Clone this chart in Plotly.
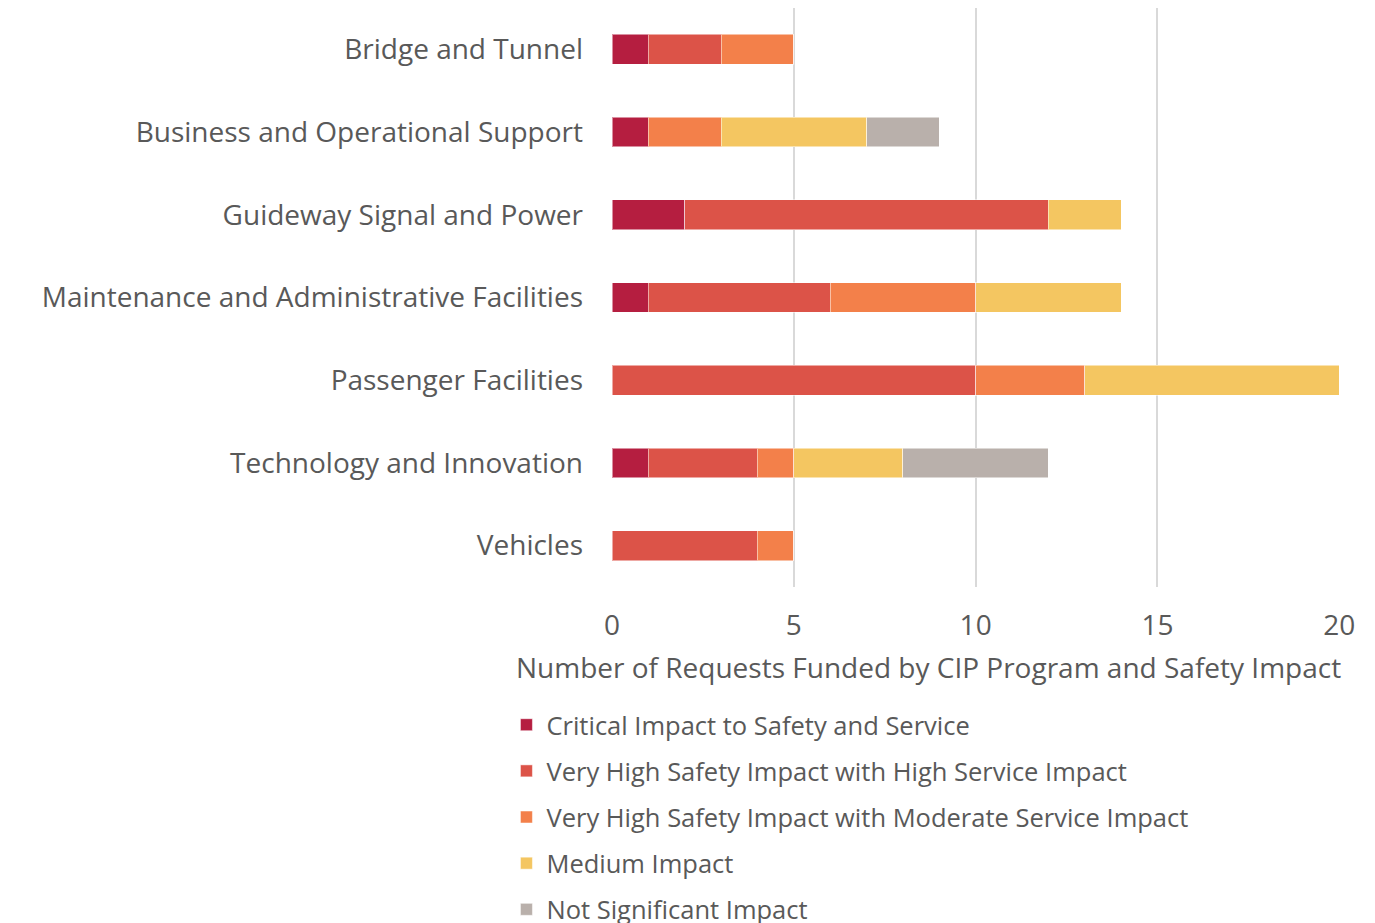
import plotly.graph_objects as go

# категории (сверху вниз как на картинке)
programs = [
    'Bridge and Tunnel',
    'Business and Operational Support',
    'Guideway Signal and Power',
    'Maintenance and Administrative Facilities',
    'Passenger Facilities',
    'Technology and Innovation',
    'Vehicles',
]

critical = [1, 1, 2, 1, 0, 1, 0]
very_high_high = [2, 0, 10, 5, 10, 3, 4]
very_high_moderate = [2, 2, 0, 4, 3, 1, 1]
medium = [0, 4, 2, 4, 7, 3, 0]
not_significant = [0, 2, 0, 0, 0, 4, 0]

x_ticks = [0, 5, 10, 15, 20]

series = [
    ('Critical Impact to Safety and Service', critical, '#B51E40'),
    ('Very High Safety Impact with High Service Impact', very_high_high, '#DC5348'),
    ('Very High Safety Impact with Moderate Service Impact', very_high_moderate, '#F3804A'),
    ('Medium Impact', medium, '#F4C661'),
    ('Not Significant Impact', not_significant, '#B9B0AB'),
]

FONT = 'Open Sans, Liberation Sans, Arial, sans-serif'
TEXT = '#595959'

fig = go.Figure()
for name, vals, color in series:
    fig.add_trace(go.Bar(
        y=programs,
        x=vals,
        name=name,
        orientation='h',
        legendgroup=name,
        marker=dict(color=color, line=dict(color='rgba(255,255,255,0.5)', width=1)),
    ))

# страница имеет отступ body 8px, поэтому поля чуть меньше
fig.update_layout(
    barmode='stack',
    bargap=0.64,
    width=1375,
    height=923,
    margin=dict(l=604, r=43, t=0, b=344, autoexpand=False),
    plot_bgcolor='white',
    paper_bgcolor='white',
    font=dict(family=FONT, size=28, color=TEXT),
    legend=dict(
        orientation='v',
        x=-0.145,
        xanchor='left',
        y=-0.198,
        yanchor='top',
        traceorder='grouped',
        tracegroupgap=10,
        font=dict(family=FONT, size=25.5, color=TEXT),
        itemwidth=30,
    ),
)

# подпись оси X сдвинута влево, как в оригинале — делаем аннотацией
fig.add_annotation(
    text='Number of Requests Funded by CIP Program and Safety Impact',
    xref='paper', yref='paper',
    x=0.435, y=-0.138,
    xanchor='center', yanchor='middle',
    showarrow=False,
    font=dict(family=FONT, size=28, color=TEXT),
)

fig.update_xaxes(
    range=[0, 20.02],
    tickvals=x_ticks,
    showgrid=True,
    gridcolor='#D9D9D9',
    gridwidth=2,
    zeroline=False,
    showline=False,
    ticks='',
    ticklabelstandoff=19,
    tickfont=dict(size=28, color=TEXT),
)
fig.update_yaxes(
    autorange='reversed',
    showgrid=False,
    showline=False,
    ticks='',
    ticklabelstandoff=28,
    tickfont=dict(size=28, color=TEXT),
)

fig.write_html('out.html')
